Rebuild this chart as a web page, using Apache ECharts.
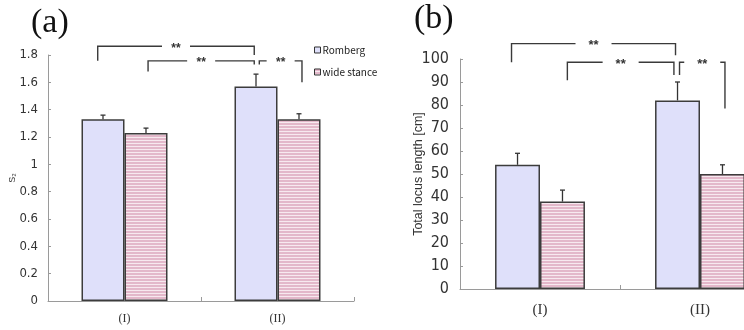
<!DOCTYPE html>
<html>
<head>
<meta charset="utf-8">
<script src="https://cdn.jsdelivr.net/npm/echarts@6/dist/echarts.min.js"></script>
<style>
html,body{margin:0;padding:0;background:#fff;}
#chart{width:744px;height:330px;}
</style>
</head>
<body>
<div id="chart"></div>
<script>
// ---- data ----
const categories = ['(I)', '(II)'];
const seriesNames = ['Romberg', 'wide stance'];
// panel (a): S2
const rombergS2 = [1.33, 1.57];
const wideS2 = [1.23, 1.33];
const rombergS2Err = [0.03, 0.09];
const wideS2Err = [0.035, 0.04];
const s2Axis = { min: 0, max: 1.8, interval: 0.2 };
// panel (b): total locus length [cm]
const rombergLen = [54, 82];
const wideLen = [38, 50];
const rombergLenErr = [5, 8];
const wideLenErr = [5, 4];
const lenAxis = { min: 0, max: 100, interval: 10 };
// significance brackets: [catFrom, offFrom, catTo, offTo, yLine, yLeftEnd, yRightEnd]
const bracketsS2 = [
  [0, -0.175, 1, -0.152, 1.864, 1.758, 1.80],
  [0, 0.154, 1, -0.152, 1.757, 1.68, 1.73],
  [1, -0.119, 1, 0.160, 1.757, 1.73, 1.60]
];
const bracketsLen = [
  [0, -0.178, 1, -0.153, 106.7, 98.6, 101.6],
  [0, 0.171, 1, -0.163, 98.6, 90.8, 93.0],
  [1, -0.128, 1, 0.156, 98.6, 93.0, 78.5]
];
const sigLabel = '**';
const panelTitles = ['(a)', '(b)'];
const yNames = ['S\u2082', 'Total locus length [cm]'];

// ---- styles ----
const BAR_FRAC = 0.281;
const rombergColor = '#dfe0fa';
function stripePattern() {
  const c = document.createElement('canvas');
  c.width = 4; c.height = 3;
  const ctx = c.getContext('2d');
  ctx.fillStyle = '#e3b8ca';
  ctx.fillRect(0, 0, 4, 3);
  ctx.fillStyle = '#f7e9ef';
  ctx.fillRect(0, 2, 4, 1);
  return c;
}
const widePattern = { image: stripePattern(), repeat: 'repeat' };

function errData(vals, errs, side) {
  return vals.map((v, i) => [i, v, errs[i], side]);
}
function renderErr(params, api) {
  const cat = api.value(0), v = api.value(1), e = api.value(2), side = api.value(3);
  const band = api.size([1, 0])[0];
  const p0 = api.coord([cat, v]);
  const p1 = api.coord([cat, v + e]);
  const x = p0[0] + side * band * BAR_FRAC / 2;
  const st = { stroke: '#333', lineWidth: 1.3 };
  return {
    type: 'group',
    children: [
      { type: 'line', shape: { x1: x, y1: p0[1], x2: x, y2: p1[1] }, style: st },
      { type: 'line', shape: { x1: x - 2.5, y1: p1[1], x2: x + 2.5, y2: p1[1] }, style: st }
    ]
  };
}
function makeBracketRenderer(gap, fontSize) {
  return function (params, api) {
    const band = api.size([1, 0])[0];
    const a = api.coord([api.value(0), api.value(4)]);
    const b = api.coord([api.value(2), api.value(4)]);
    const x0 = a[0] + api.value(1) * band;
    const x1 = b[0] + api.value(3) * band;
    const y = a[1];
    const yL = api.coord([api.value(0), api.value(5)])[1];
    const yR = api.coord([api.value(2), api.value(6)])[1];
    const mid = (x0 + x1) / 2;
    const st = { stroke: '#3a3a3a', lineWidth: 1.4, fill: null };
    return {
      type: 'group',
      children: [
        { type: 'polyline', shape: { points: [[x0, yL], [x0, y], [mid - gap / 2, y]] }, style: st },
        { type: 'polyline', shape: { points: [[mid + gap / 2, y], [x1, y], [x1, yR]] }, style: st },
        { type: 'text', x: mid, y: y + 2, style: { text: sigLabel, fill: '#333', font: 'bold ' + fontSize + 'px "Liberation Sans", sans-serif', align: 'center', verticalAlign: 'middle' } }
      ]
    };
  };
}

const chart = echarts.init(document.getElementById('chart'), null, { renderer: 'canvas' });

const axisGray = '#9a9a9a';
function yAxisCfg(idx, range, fontSize, margin, name, nameGap, nameFont) {
  return {
    type: 'value', gridIndex: idx, min: range.min, max: range.max, interval: range.interval,
    splitLine: { show: false },
    axisLine: { show: true, lineStyle: { color: axisGray, width: 1 } },
    axisTick: { show: true, inside: true, length: 3, lineStyle: { color: axisGray } },
    axisLabel: { color: '#333', fontSize: fontSize, fontFamily: '"Liberation Sans Narrow", "DejaVu Sans Condensed", sans-serif', margin: margin },
    name: name, nameLocation: 'middle', nameRotate: 90, nameGap: nameGap, nameMoveOverlap: false,
    nameTextStyle: nameFont
  };
}
function xAxisCfg(idx, fontSize, margin) {
  return {
    type: 'category', gridIndex: idx, data: categories,
    axisLine: { show: true, lineStyle: { color: axisGray, width: 1 } },
    axisTick: { show: true, inside: true, length: 4, alignWithLabel: false, lineStyle: { color: axisGray } },
    axisLabel: { color: '#333', fontSize: fontSize, fontFamily: '"Liberation Serif", serif', margin: margin }
  };
}
function barSeries(name, data, color, axisIdx, barW) {
  return {
    name: name, type: 'bar', xAxisIndex: axisIdx, yAxisIndex: axisIdx, data: data,
    barWidth: barW, barGap: '0%',
    itemStyle: { color: color, borderColor: '#3c3c3c', borderWidth: 1.5 },
    emphasis: { disabled: true }, z: 2
  };
}

const option = {
  animation: false,
  backgroundColor: '#fff',
  textStyle: { fontFamily: '"Liberation Sans", sans-serif' },
  title: [
    { text: panelTitles[0], left: 26, top: 1, textStyle: { fontFamily: '"Liberation Serif", serif', fontSize: 34, fontWeight: 'normal', color: '#111' } },
    { text: panelTitles[1], left: 409, top: -3, textStyle: { fontFamily: '"Liberation Serif", serif', fontSize: 34, fontWeight: 'normal', color: '#111' } }
  ],
  legend: {
    data: seriesNames, orient: 'vertical', left: 314, top: 45, itemWidth: 6, itemHeight: 6, itemGap: 12,
    icon: 'rect', padding: 0,
    itemStyle: { borderColor: '#333', borderWidth: 1 },
    textStyle: { fontSize: 10, color: '#222', fontFamily: '"Noto Sans CJK JP", "Noto Sans", sans-serif', padding: [0, 0, 0, -3] }
  },
  grid: [
    { left: 48, top: 55, width: 306, height: 246, outerBoundsMode: 'none' },
    { left: 460, top: 59, right: -36, height: 230, outerBoundsMode: 'none' }
  ],
  xAxis: [xAxisCfg(0, 12, 12), xAxisCfg(1, 15, 14)],
  yAxis: [
    yAxisCfg(0, s2Axis, 13, 10, yNames[0], 31, { fontSize: 9, color: '#333' }),
    yAxisCfg(1, lenAxis, 16, 11, yNames[1], 35, { fontSize: 12.5, color: '#333', fontFamily: '"Liberation Sans", sans-serif' })
  ],
  series: [
    barSeries(seriesNames[0], rombergS2, rombergColor, 0, (BAR_FRAC * 100) + '%'),
    barSeries(seriesNames[1], wideS2, widePattern, 0, (BAR_FRAC * 100) + '%'),
    barSeries(seriesNames[0], rombergLen, rombergColor, 1, (BAR_FRAC * 100) + '%'),
    barSeries(seriesNames[1], wideLen, widePattern, 1, (BAR_FRAC * 100) + '%'),
    { type: 'custom', xAxisIndex: 0, yAxisIndex: 0, renderItem: renderErr, clip: false, z: 5, silent: true,
      dimensions: ['x', 'y', 'e', 's'], encode: { x: 0, y: 1 },
      data: errData(rombergS2, rombergS2Err, -1).concat(errData(wideS2, wideS2Err, 1)) },
    { type: 'custom', xAxisIndex: 1, yAxisIndex: 1, renderItem: renderErr, clip: false, z: 5, silent: true,
      dimensions: ['x', 'y', 'e', 's'], encode: { x: 0, y: 1 },
      data: errData(rombergLen, rombergLenErr, -1).concat(errData(wideLen, wideLenErr, 1)) },
    { type: 'custom', xAxisIndex: 0, yAxisIndex: 0, renderItem: makeBracketRenderer(28, 12), clip: false, z: 5, silent: true,
      encode: { x: 0, y: 4 }, data: bracketsS2 },
    { type: 'custom', xAxisIndex: 1, yAxisIndex: 1, renderItem: makeBracketRenderer(36, 13), clip: false, z: 5, silent: true,
      encode: { x: 0, y: 4 }, data: bracketsLen }
  ]
};
chart.setOption(option);
</script>
</body>
</html>
